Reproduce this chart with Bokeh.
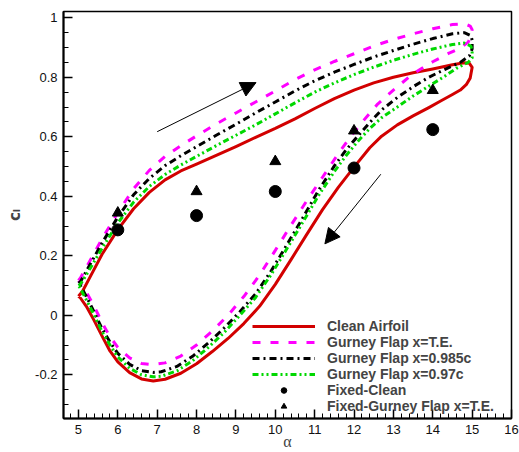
import numpy as np
from bokeh.plotting import figure
from bokeh.models import (Arrow, NormalHead, Legend, LegendItem, FixedTicker, Range1d)
from bokeh.embed import file_html
from bokeh.resources import INLINE

# ---- data ----
# Clean airfoil: upstroke 5 -> 15, then downstroke 15 -> 5
clean_alpha = [5.0, 5.1, 5.3, 5.6, 6.0, 6.4, 6.8, 7.2, 7.6, 8.0, 8.5, 9.0, 9.5, 10.0, 10.5, 11.0, 11.5, 12.0, 12.5,
               13.0, 13.5, 14.0, 14.5, 14.8, 14.93, 15.0,
               14.95, 14.85, 14.7, 14.5, 14.2, 13.9, 13.5, 13.1, 12.7, 12.4, 12.0, 11.6, 11.2, 10.8, 10.4, 10.0,
               9.6, 9.2, 8.8, 8.4, 8.0, 7.6, 7.2, 6.9, 6.6, 6.3, 6.0, 5.8, 5.6, 5.4, 5.2, 5.05, 5.0]
clean_cl = [0.064, 0.08, 0.13, 0.205, 0.288, 0.358, 0.413, 0.455, 0.485, 0.508, 0.537, 0.567, 0.598, 0.628, 0.66,
            0.695, 0.728, 0.757, 0.781, 0.8, 0.815, 0.828, 0.842, 0.849, 0.847, 0.833,
            0.797, 0.775, 0.757, 0.742, 0.72, 0.698, 0.67, 0.64, 0.602, 0.563, 0.498, 0.43, 0.355, 0.272, 0.187,
            0.104, 0.03, -0.028, -0.078, -0.122, -0.163, -0.195, -0.215, -0.221, -0.214, -0.193, -0.157, -0.12,
            -0.07, -0.018, 0.03, 0.058, 0.064]

# Gurney flap x=T.E.
te_alpha = [5.0, 5.05, 5.3, 5.6, 6.0, 6.4, 6.8, 7.2, 7.6, 8.0, 8.5, 9.0, 9.5, 10.0, 10.5, 11.0, 11.5, 12.0, 12.5,
            13.0, 13.5, 14.0, 14.5, 14.8, 14.95, 15.0,
            14.98, 14.9, 14.7, 14.4, 14.0, 13.5, 13.0, 12.6, 12.2, 11.9, 11.6, 11.2, 10.8, 10.4, 10.0, 9.6, 9.2,
            8.8, 8.4, 8.0, 7.6, 7.2, 6.9, 6.6, 6.3, 6.0, 5.8, 5.6, 5.4, 5.2, 5.05, 5.0]
te_cl = [0.117, 0.125, 0.185, 0.257, 0.345, 0.425, 0.487, 0.534, 0.57, 0.603, 0.643, 0.68, 0.717, 0.754, 0.792,
         0.825, 0.853, 0.879, 0.905, 0.927, 0.946, 0.963, 0.977, 0.98, 0.972, 0.96,
         0.94, 0.918, 0.898, 0.88, 0.852, 0.812, 0.757, 0.71, 0.648, 0.598, 0.543, 0.464, 0.385, 0.303, 0.218,
         0.135, 0.063, 0.0, -0.053, -0.1, -0.137, -0.16, -0.166, -0.162, -0.143, -0.108, -0.072, -0.025, 0.03,
         0.078, 0.11, 0.117]

# Gurney flap x=0.985c
g985_alpha = [5.0, 5.05, 5.3, 5.6, 6.0, 6.4, 6.8, 7.2, 7.6, 8.0, 8.5, 9.0, 9.5, 10.0, 10.5, 11.0, 11.5, 12.0, 12.5,
              13.0, 13.5, 14.0, 14.5, 14.8, 14.97, 15.0,
              15.0, 14.93, 14.7, 14.3, 13.9, 13.5, 13.1, 12.7, 12.4, 12.1, 11.8, 11.5, 11.1, 10.7, 10.3, 9.9, 9.5,
              9.1, 8.7, 8.3, 7.9, 7.5, 7.1, 6.9, 6.6, 6.3, 6.0, 5.8, 5.6, 5.4, 5.2, 5.05, 5.0]
g985_cl = [0.108, 0.113, 0.172, 0.243, 0.33, 0.405, 0.46, 0.503, 0.536, 0.567, 0.605, 0.642, 0.68, 0.717, 0.754,
           0.788, 0.817, 0.843, 0.868, 0.89, 0.911, 0.93, 0.946, 0.95, 0.94, 0.925,
           0.895, 0.872, 0.85, 0.826, 0.8, 0.768, 0.732, 0.69, 0.648, 0.603, 0.556, 0.502, 0.42, 0.328, 0.238,
           0.15, 0.072, 0.012, -0.043, -0.093, -0.138, -0.172, -0.19, -0.192, -0.186, -0.165, -0.128, -0.09,
           -0.045, 0.01, 0.063, 0.1, 0.108]

# Gurney flap x=0.97c
g97_alpha = [5.0, 5.05, 5.3, 5.6, 6.0, 6.4, 6.8, 7.2, 7.6, 8.0, 8.5, 9.0, 9.5, 10.0, 10.5, 11.0, 11.5, 12.0, 12.5,
             13.0, 13.5, 14.0, 14.5, 14.8, 14.97, 15.0,
             15.0, 14.9, 14.6, 14.3, 13.9, 13.5, 13.1, 12.7, 12.4, 12.1, 11.8, 11.5, 11.1, 10.7, 10.3, 9.9, 9.5,
             9.1, 8.7, 8.3, 7.9, 7.5, 7.1, 6.9, 6.6, 6.3, 6.0, 5.8, 5.6, 5.4, 5.2, 5.05, 5.0]
g97_cl = [0.1, 0.104, 0.158, 0.225, 0.31, 0.38, 0.433, 0.473, 0.505, 0.534, 0.57, 0.605, 0.64, 0.677, 0.714,
          0.75, 0.781, 0.809, 0.834, 0.857, 0.877, 0.895, 0.91, 0.915, 0.905, 0.89,
          0.865, 0.85, 0.83, 0.803, 0.77, 0.737, 0.7, 0.664, 0.628, 0.585, 0.537, 0.483, 0.403, 0.313, 0.225,
          0.138, 0.06, 0.0, -0.058, -0.108, -0.153, -0.187, -0.205, -0.207, -0.2, -0.178, -0.14, -0.1, -0.055,
          0.0, 0.052, 0.09, 0.1]

fixed_alpha = [6, 8, 10, 12, 14]
fixed_clean_cl = [0.287, 0.335, 0.416, 0.495, 0.624]
fixed_gurney_cl = [0.344, 0.416, 0.517, 0.62, 0.756]

arrow_up = (7.0, 0.617, 9.51, 0.782)
arrow_down = (12.68, 0.474, 11.26, 0.24)

x_ticks = [5, 6, 7, 8, 9, 10, 11, 12, 13, 14, 15, 16]
y_ticks = [-0.2, 0.0, 0.2, 0.4, 0.6, 0.8, 1.0]
y_tick_labels = ["-0.2", "0", "0.2", "0.4", "0.6", "0.8", "1"]

# ---- figure ----
p = figure(width=519, height=452, output_backend="svg", toolbar_location=None,
           x_range=Range1d(4.62, 16.0), y_range=Range1d(-0.347, 1.021),
           min_border_left=63, min_border_right=8, min_border_top=11, min_border_bottom=33)
p.grid.visible = False
p.outline_line_color = "black"
p.outline_line_width = 1.5
p.background_fill_color = "white"

r_clean = p.line(clean_alpha, clean_cl, line_color="#D20000", line_width=3, line_join="round")
r_te = p.line(te_alpha, te_cl, line_color="#FF00FF", line_width=3, line_dash="8 10")
r_985 = p.line(g985_alpha, g985_cl, line_color="black", line_width=3, line_dash="7 4 2 4")
r_97 = p.line(g97_alpha, g97_cl, line_color="#00D800", line_width=3, line_dash="6 3 2 3 2 3")
r_fc = p.scatter(fixed_alpha, fixed_clean_cl, marker="circle", size=12, fill_color="black", line_color="black")
r_fg = p.scatter(fixed_alpha, fixed_gurney_cl, marker="triangle", size=11, fill_color="black", line_color="black")

for (xs, ys, xe, ye) in (arrow_up, arrow_down):
    p.add_layout(Arrow(end=NormalHead(size=15, fill_color="black", line_color="black"),
                       x_start=xs, y_start=ys, x_end=xe, y_end=ye,
                       line_color="black", line_width=1))

# axes
xmin = list(np.round(np.arange(4.8, 16.01, 0.2), 3))
ymin = list(np.round(np.arange(-0.35, 1.03, 0.05), 3))
p.xaxis.ticker = FixedTicker(ticks=x_ticks, minor_ticks=xmin)
p.yaxis.ticker = FixedTicker(ticks=y_ticks, minor_ticks=ymin)
p.yaxis.major_label_overrides = dict(zip(y_ticks, y_tick_labels))

for ax in (p.xaxis[0], p.yaxis[0]):
    ax.axis_line_width = 2
    ax.axis_line_color = "black"
    ax.major_tick_in = 9
    ax.major_tick_out = 0
    ax.minor_tick_in = 5
    ax.minor_tick_out = 0
    ax.major_tick_line_width = 1.5
    ax.minor_tick_line_width = 1
    ax.major_tick_line_color = "black"
    ax.minor_tick_line_color = "black"
    ax.major_label_text_font = "Liberation Sans"
    ax.major_label_text_font_size = "13px"
    ax.major_label_text_color = "#111111"

p.xaxis.major_label_standoff = 6
p.yaxis.major_label_standoff = 6
p.xaxis.axis_label = "α"
p.xaxis.axis_label_text_font = "Liberation Serif"
p.xaxis.axis_label_text_font_size = "16px"
p.xaxis.axis_label_text_font_style = "normal"
p.xaxis.axis_label_standoff = -4
p.yaxis.axis_label = "cₗ"
p.yaxis.axis_label_text_font = "DejaVu Sans"
p.yaxis.axis_label_text_font_size = "15px"
p.yaxis.axis_label_text_font_style = "bold"
p.yaxis.axis_label_standoff = 8

legend = Legend(items=[
    LegendItem(label="Clean Airfoil", renderers=[r_clean]),
    LegendItem(label="Gurney Flap x=T.E.", renderers=[r_te]),
    LegendItem(label="Gurney Flap x=0.985c", renderers=[r_985]),
    LegendItem(label="Gurney Flap x=0.97c", renderers=[r_97]),
    LegendItem(label="Fixed-Clean", renderers=[r_fc]),
    LegendItem(label="Fixed-Gurney Flap x=T.E.", renderers=[r_fg]),
], location=(189, 4))
legend.label_text_font = "Liberation Sans"
legend.label_text_font_style = "bold"
legend.label_text_font_size = "14px"
legend.glyph_width = 63
legend.glyph_height = 14
legend.label_height = 14
legend.spacing = 0
legend.padding = 0
legend.margin = 0
legend.label_standoff = 12
legend.border_line_alpha = 0
legend.background_fill_alpha = 0
p.add_layout(legend)

open("out.html", "w").write(file_html(p, INLINE))
